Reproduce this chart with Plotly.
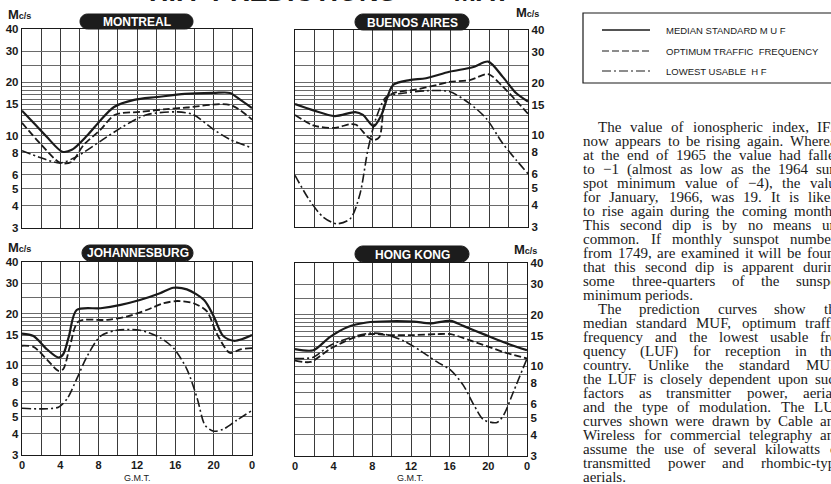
import math
import plotly.graph_objects as go

W, H = 831, 484

# ---------------- data (G.M.T. hours, Mc/s) ----------------
mtl_muf_h = [0, 1.2, 2.6, 4.2, 5.2, 6.8, 8.2, 9.6, 11.7, 14.1, 17, 20, 21.7, 22.8, 24]
mtl_muf = [13.8, 11.8, 9.8, 8.1, 8.3, 10.0, 12.2, 14.5, 15.9, 16.5, 17.2, 17.4, 17.4, 15.9, 14.3]
mtl_otf_h = [0, 1.9, 4, 5.2, 6.4, 8.2, 9.7, 12.3, 15.1, 17.2, 21.7, 24]
mtl_otf = [11.8, 9.0, 7.0, 7.1, 8.8, 10.8, 13.1, 13.6, 14.1, 14.4, 14.9, 12.3]
mtl_luf_h = [0, 1.9, 4, 5.7, 8.2, 10.5, 13, 16.2, 17.9, 20, 21.7, 24]
mtl_luf = [8.2, 7.5, 7.0, 7.6, 9.3, 11.2, 13.1, 13.6, 13.1, 10.8, 9.5, 8.5]

ba_muf_h = [0, 1.9, 4.1, 6.2, 7.0, 8.1, 8.9, 10.1, 11.8, 13.5, 15.9, 18.3, 19.9, 21.4, 22.8, 24]
ba_muf = [15.1, 13.9, 12.9, 13.6, 13.1, 11.3, 13.1, 19.4, 20.7, 21.2, 23.1, 24.5, 26.4, 21.6, 17.4, 15.6]
ba_otf_h = [0, 1.9, 4.1, 5.7, 6.3, 7.5, 8.1, 8.7, 9.3, 10.1, 12.5, 14.6, 15.9, 18, 19.9, 21.4, 24]
ba_otf = [13.1, 11.4, 11.05, 11.6, 11.5, 9.8, 9.4, 9.8, 15.9, 17.4, 18.3, 19.4, 20.2, 20.7, 22.4, 19.0, 13.3]
ba_luf_h = [0, 1.5, 2.9, 4.3, 5.7, 6.7, 7.5, 8.4, 9.4, 11.1, 13.5, 15.9, 18, 19.7, 21.4, 22.8, 24]
ba_luf = [5.92, 4.26, 3.42, 3.13, 3.35, 4.65, 8.23, 12.8, 16.6, 17.4, 18.0, 17.8, 15.2, 12.5, 8.99, 7.22, 6.05]

jo_muf_h = [0, 1.2, 2.6, 3.8, 4.3, 4.9, 5.7, 8.2, 10.3, 12.3, 14.4, 15.8, 17.2, 19, 20, 21, 22.1, 23.1, 24]
jo_muf = [15.3, 14.8, 12.4, 11.1, 11.6, 14.8, 21.0, 21.5, 22.5, 24.0, 26.3, 28.3, 27.7, 24.0, 19.3, 14.8, 13.9, 14.3, 15.0]
jo_otf_h = [0, 1.2, 2.6, 3.8, 4.3, 5, 5.9, 8.9, 11, 13, 14.8, 16.2, 17.9, 19.3, 20.3, 21.7, 22.8, 24]
jo_otf = [13.0, 12.8, 10.8, 9.28, 9.5, 12.9, 18.0, 18.4, 19.3, 21.0, 23.0, 23.7, 23.0, 20.6, 15.4, 11.8, 12.4, 12.6]
jo_luf_h = [0, 1.9, 3.8, 4.7, 5.7, 6.8, 8.2, 9.9, 12.3, 14.4, 15.8, 17.2, 18.3, 19.1, 20, 21, 22.4, 24]
jo_luf = [5.62, 5.57, 5.70, 6.37, 8.3, 11.3, 14.8, 16.0, 16.0, 14.5, 12.6, 9.5, 6.37, 4.47, 4.13, 4.24, 4.78, 5.45]

hk_muf_h = [0, 1.9, 3.6, 5.4, 7.4, 9.8, 12.3, 14, 16.1, 17.4, 19.5, 21.6, 24]
hk_muf = [12.6, 12.4, 14.8, 16.9, 18.0, 18.3, 18.2, 17.8, 18.4, 17.2, 15.4, 13.8, 12.4]
hk_otf_h = [0, 1.6, 3.6, 5.7, 7.8, 9.8, 12.3, 14.7, 16.1, 18.2, 20.2, 21.6, 24]
hk_otf = [10.8, 10.6, 12.6, 14.4, 15.4, 15.2, 15.2, 15.4, 15.4, 14.1, 12.9, 12.1, 11.1]
hk_luf_h = [0, 1.9, 3.6, 5.9, 7.8, 9.2, 11.2, 12.9, 14.7, 16.1, 17.4, 18.5, 19.5, 20.9, 21.6, 22.6, 24]
hk_luf = [11.1, 11.3, 13.2, 14.8, 15.6, 15.4, 14.1, 12.4, 10.6, 9.5, 7.77, 5.96, 4.88, 4.71, 5.22, 7.11, 11.1]

x_tickvals = list(range(0, 25, 2))
x_ticktext = ["0", "", "4", "", "8", "", "12", "", "16", "", "20", "", "0"]
y_gridvals = [3, 4, 5, 6, 7, 8, 9, 10, 11, 12, 13, 14, 15, 16, 17, 18, 19, 20, 25, 30, 40]
y_labels = {3: "3", 4: "4", 5: "5", 6: "6", 8: "8", 10: "10", 15: "15", 20: "20", 30: "30", 40: "40"}

cities = ["MONTREAL", "BUENOS AIRES", "JOHANNESBURG", "HONG KONG"]
series_names = ["MEDIAN STANDARD M U F", "OPTIMUM TRAFFIC  FREQUENCY", "LOWEST USABLE  H F"]

text_lines = [
    "The value of ionospheric index, IF2,",
    "now appears to be rising again. Whereas",
    "at the end of 1965 the value had fallen",
    "to \u22121 (almost as low as the 1964 sun-",
    "spot minimum value of \u22124), the value",
    "for January, 1966, was 19.  It is likely",
    "to rise again during the coming months.",
    "This second dip is by no means un-",
    "common.  If monthly sunspot numbers",
    "from 1749, are examined it will be found",
    "that this second dip is apparent during",
    "some three-quarters of the sunspot",
    "minimum periods.",
    "The prediction curves show the",
    "median standard MUF, optimum traffic",
    "frequency and the lowest usable fre-",
    "quency (LUF) for reception in this",
    "country.  Unlike the standard MUF,",
    "the LUF is closely dependent upon such",
    "factors as transmitter power, aerials",
    "and the type of modulation.  The LUF",
    "curves shown were drawn by Cable and",
    "Wireless for commercial telegraphy and",
    "assume the use of several kilowatts of",
    "transmitted power and rhombic-type",
    "aerials.",
]

# ---------------- helpers ----------------
def px(x):
    return x / W

def py(y):
    return 1 - y / H

INK = "#1a1a1a"
XGRID = "#3a3a3a"
YGRID = "#6a6a6a"
NARROW = "Liberation Sans Narrow, Arial Narrow, sans-serif"
BOLD = "Liberation Sans, Arial, sans-serif"
SERIF = "Liberation Serif, Times New Roman, serif"

panels = [
    dict(x=(22, 252), y=(29, 228), side="left", xlabels=False),
    dict(x=(295, 528), y=(30, 227), side="right", xlabels=False),
    dict(x=(22, 252), y=(262, 455), side="left", xlabels=True),
    dict(x=(295, 527), y=(263, 456), side="right", xlabels=True),
]

data = [
    [(mtl_muf_h, mtl_muf), (mtl_otf_h, mtl_otf), (mtl_luf_h, mtl_luf)],
    [(ba_muf_h, ba_muf), (ba_otf_h, ba_otf), (ba_luf_h, ba_luf)],
    [(jo_muf_h, jo_muf), (jo_otf_h, jo_otf), (jo_luf_h, jo_luf)],
    [(hk_muf_h, hk_muf), (hk_otf_h, hk_otf), (hk_luf_h, hk_luf)],
]

styles = [
    dict(dash="solid", width=2.2),
    dict(dash="7px,3px", width=1.8),
    dict(dash="9px,3px,2px,3px", width=1.6),
]

fig = go.Figure()
layout = dict(
    width=W, height=H, margin=dict(l=0, r=0, t=0, b=0, autoexpand=False),
    paper_bgcolor="white", plot_bgcolor="white", showlegend=False,
)

for i, p in enumerate(panels):
    n = "" if i == 0 else str(i + 1)
    xa = "x" + n
    ya = "y" + n
    for j, (hh, vv) in enumerate(data[i]):
        fig.add_trace(go.Scatter(
            x=hh, y=vv, mode="lines", name=series_names[j],
            xaxis=xa, yaxis=ya, line_shape="spline",
            line=dict(color=INK, width=styles[j]["width"], dash=styles[j]["dash"], smoothing=0.8),
            hoverinfo="skip",
        ))
    layout["xaxis" + n] = dict(
        domain=[px(p["x"][0]), px(p["x"][1])], anchor=ya, range=[0, 24],
        tickmode="array", tickvals=x_tickvals, ticktext=x_ticktext,
        showticklabels=p["xlabels"], ticks="", automargin=False,
        tickfont=dict(family=NARROW, size=11, color=INK, weight="bold"),
        showgrid=True, gridcolor=XGRID, gridwidth=1,
        showline=True, mirror=True, linecolor=INK, linewidth=1.2, zeroline=False,
        fixedrange=True,
    )
    layout["yaxis" + n] = dict(
        domain=[py(p["y"][1]), py(p["y"][0])], anchor=xa, type="log",
        range=[math.log10(3), math.log10(40)],
        tickmode="array", tickvals=y_gridvals,
        ticktext=[y_labels.get(v, "") for v in y_gridvals],
        side=p["side"], ticks="", automargin=False,
        tickfont=dict(family=NARROW, size=11.5, color=INK, weight="bold"),
        showgrid=True, gridcolor=YGRID, gridwidth=1,
        showline=True, mirror=True, linecolor=INK, linewidth=1.2, zeroline=False,
        fixedrange=True,
    )

fig.update_layout(**layout)

shapes = []
annotations = []

# pill-shaped city titles
def pill(x0, x1, y0, y1):
    r = (y1 - y0) / 2.0
    ym = (y0 + y1) / 2.0
    k = 0.5523 * r
    pts = [
        ("M", [(x0 + r, y0)]),
        ("L", [(x1 - r, y0)]),
        ("C", [(x1 - r + k, y0), (x1, ym - k), (x1, ym)]),
        ("C", [(x1, ym + k), (x1 - r + k, y1), (x1 - r, y1)]),
        ("L", [(x0 + r, y1)]),
        ("C", [(x0 + r - k, y1), (x0, ym + k), (x0, ym)]),
        ("C", [(x0, ym - k), (x0 + r - k, y0), (x0 + r, y0)]),
    ]
    s = ""
    for cmd, ps in pts:
        s += cmd + " " + " ".join("%.5f,%.5f" % (px(a), py(b)) for a, b in ps) + " "
    return s + "Z"

pills = [(80, 193, 14, 29), (355, 469, 14, 30), (82, 193, 245, 261), (355, 469, 246, 262)]
for (x0, x1, y0, y1), name in zip(pills, cities):
    shapes.append(dict(type="path", xref="paper", yref="paper", path=pill(x0, x1, y0, y1),
                       fillcolor="#1c1c1c", line=dict(color="#1c1c1c", width=1), layer="above"))
    annotations.append(dict(xref="paper", yref="paper", x=px((x0 + x1) / 2), y=py((y0 + y1) / 2 + 0.5),
                            text="<b>%s</b>" % name, showarrow=False, xanchor="center", yanchor="middle",
                            font=dict(family=BOLD, size=12, color="white")))

# Mc/s units
for (xx, yy) in [(19, 15), (527, 13), (19, 247), (525, 249)]:
    annotations.append(dict(xref="paper", yref="paper", x=px(xx), y=py(yy), showarrow=False,
                            xanchor="center", yanchor="middle",
                            text="M<span style='font-size:9px'>c/s</span>",
                            font=dict(family=NARROW, size=13, color=INK, weight="bold")))

# G.M.T. labels
for xx in (137, 410):
    annotations.append(dict(xref="paper", yref="paper", x=px(xx), y=py(478), showarrow=False,
                            xanchor="center", yanchor="middle", text="G.M.T.",
                            font=dict(family=NARROW, size=9, color=INK)))

# headline (cut off at the top)
annotations.append(dict(xref="paper", yref="paper", x=px(330), y=py(-8), showarrow=False,
                        xanchor="center", yanchor="middle", text="<b>H.F.  PREDICTIONS  \u2014  MAY</b>",
                        font=dict(family=BOLD, size=27, color=INK)))

# auroral correction note
annotations.append(dict(xref="x", yref="y", x=11.6, y=5, showarrow=False, xanchor="center", yanchor="middle",
                        text="WITH  AURORAL  CORRECTION", bgcolor="white", borderpad=1,
                        font=dict(family=NARROW, size=8.5, color=INK)))
for (tx, ty, ax, ay) in [(9.7, 13.4, 16, 68), (10.6, 10.9, 9, 52)]:
    annotations.append(dict(xref="x", yref="y", x=tx, y=ty, text="", showarrow=True,
                            ax=ax, ay=ay, arrowhead=2, arrowsize=1, arrowwidth=1, arrowcolor=INK))

# legend box
shapes.append(dict(type="rect", xref="paper", yref="paper", x0=px(583), x1=px(860), y0=py(83), y1=py(13),
                   line=dict(color=INK, width=1.2), fillcolor="rgba(0,0,0,0)"))
for j, yy in enumerate([30, 51, 71]):
    shapes.append(dict(type="line", xref="paper", yref="paper", x0=px(602), x1=px(650), y0=py(yy), y1=py(yy),
                       line=dict(color=INK, width=1.4 if j == 0 else 1.2, dash=styles[j]["dash"])))
    annotations.append(dict(xref="paper", yref="paper", x=px(664), y=py(yy), showarrow=False,
                            xanchor="left", yanchor="middle", text=series_names[j],
                            font=dict(family=NARROW, size=9.5, color=INK)))

# article text, justified to the column with Times metrics
TW = {' ': 250, 'a': 444, 'b': 500, 'c': 444, 'd': 500, 'e': 444, 'f': 333, 'g': 500, 'h': 500, 'i': 278,
      'j': 278, 'k': 500, 'l': 278, 'm': 778, 'n': 500, 'o': 500, 'p': 500, 'q': 500, 'r': 333, 's': 389,
      't': 278, 'u': 500, 'v': 500, 'w': 722, 'x': 500, 'y': 500, 'z': 444, 'A': 722, 'B': 667, 'C': 667,
      'D': 722, 'E': 611, 'F': 556, 'G': 722, 'H': 722, 'I': 333, 'J': 389, 'K': 722, 'L': 611, 'M': 889,
      'N': 722, 'O': 722, 'P': 556, 'Q': 722, 'R': 667, 'S': 556, 'T': 611, 'U': 722, 'V': 722, 'W': 944,
      'X': 722, 'Y': 722, 'Z': 611, ',': 250, '.': 250, '-': 333, '(': 333, ')': 333, '\u2212': 564,
      ':': 278, ';': 278}
FS = 15.0
COL_L, COL_R = 583, 842
y0t, dyt = 127, 14.0

def wwidth(w):
    return sum(TW.get(c, 500) for c in w) * FS / 1000.0

last_lines = {12, 25}
for k, line in enumerate(text_lines):
    left = 598 if k in (0, 13) else COL_L
    words = line.split()
    widths = [wwidth(w) for w in words]
    if k in last_lines or len(words) < 2:
        gap = TW[' '] * FS / 1000.0
    else:
        gap = (COL_R - left - sum(widths)) / (len(words) - 1)
    x = left
    for w, wd in zip(words, widths):
        annotations.append(dict(xref="paper", yref="paper", x=px(x), y=py(y0t + k * dyt), showarrow=False,
                                xanchor="left", yanchor="middle", text=w, borderpad=0, borderwidth=0,
                                font=dict(family=SERIF, size=FS, color=INK)))
        x += wd + gap

fig.update_layout(shapes=shapes, annotations=annotations)
fig.write_html("out.html", config={"displayModeBar": False, "staticPlot": True},
               post_script="document.body.style.margin='0';document.body.style.padding='0';")
